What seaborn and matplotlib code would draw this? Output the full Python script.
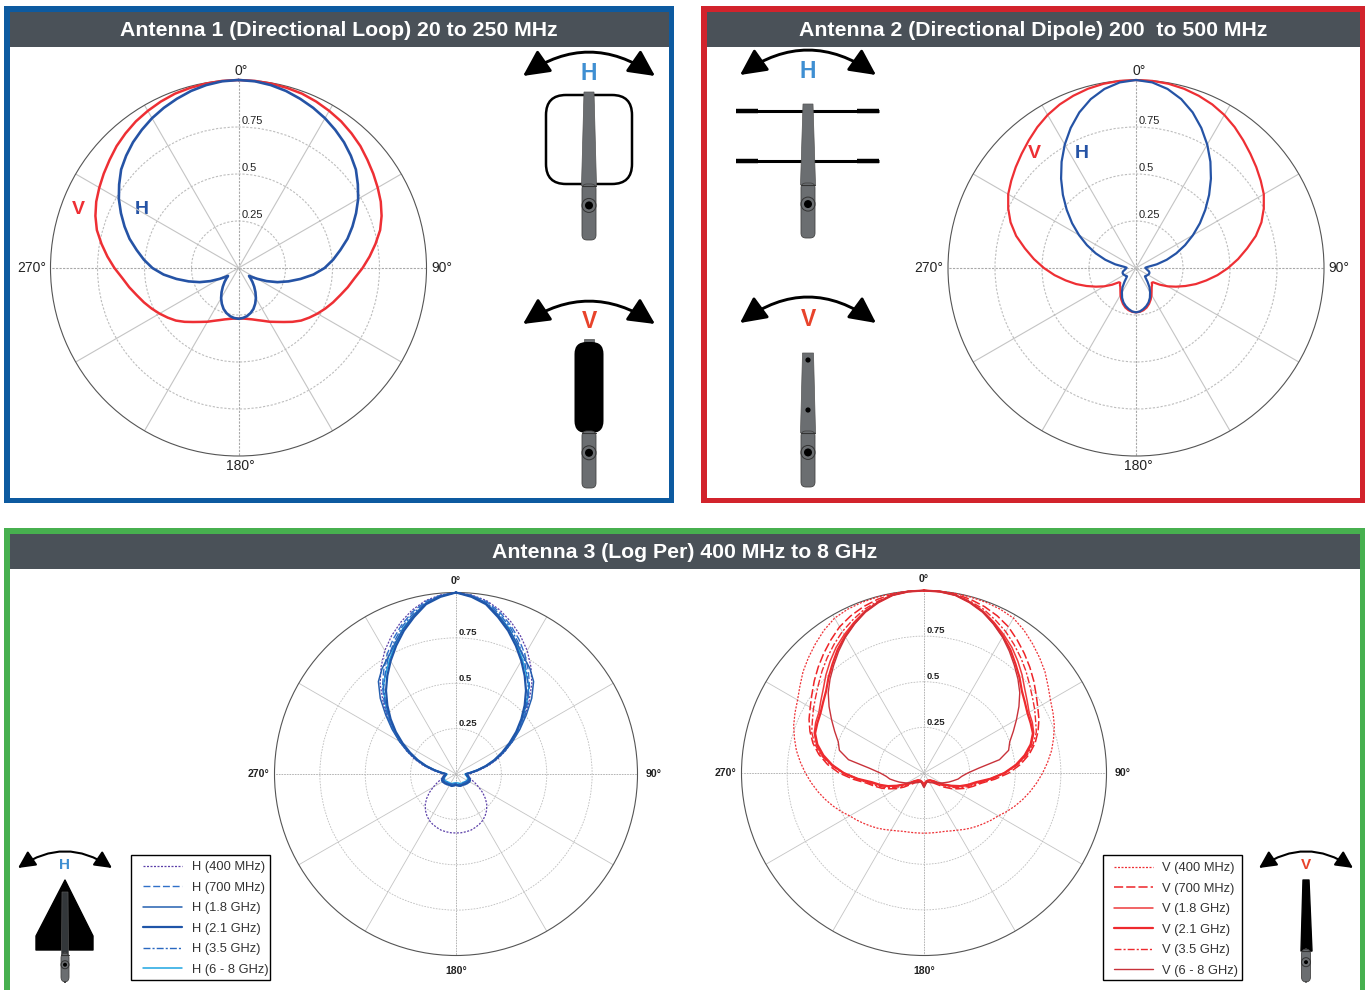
import numpy as np
import matplotlib as mpl
import matplotlib.pyplot as plt
import seaborn as sns
from matplotlib.patches import Rectangle, FancyBboxPatch, Polygon, Circle, FancyArrowPatch

mpl.use("Agg")

# Angles are clockwise from the top, right half only, the patterns are mirrored
ANGLES_5 = list(range(0, 185, 5))

ANGLES_A1_H = list(range(0, 125, 5)) + [124, 127, 130] + list(range(135, 185, 5))
A1_H = [1, .997, .988, .975, .958, .94, .92, .897, .873, .845, .815, .775, .735, .69, .645, .60, .55, .505, .458,
        .40, .335, .275, .22, .165, .115, .085, .07, .082, .105, .13, .157, .185, .21, .232, .248, .26, .267, .27]
A1_V = [1, .999, .996, .992, .987, .977, .965, .952, .935, .917, .895, .875, .855, .835, .81, .78, .74, .70, .66,
        .62, .59, .56, .535, .51, .485, .46, .435, .405, .375, .35, .33, .31, .295, .283, .275, .27, .27]

ANGLES_A2_H = list(range(0, 90, 5)) + [88] + list(range(95, 135, 5)) + [133, 136] + list(range(140, 185, 5))
A2_H = [1, .991, .967, .93, .881, .822, .758, .69, .62, .55, .481, .415, .35, .288, .228, .169, .112, .06, .05,
        .055, .062, .072, .076, .076, .073, .07, .066, .065, .075, .095, .125, .15, .175, .195, .21, .222, .232, .236]
ANGLES_A2_V = list(range(0, 135, 5)) + [133, 137] + list(range(140, 185, 5))
A2_V = [1, .999, .995, .987, .975, .96, .94, .915, .887, .86, .835, .81, .785, .75, .71, .66, .60, .545, .49,
        .435, .38, .33, .28, .235, .195, .155, .118, .115, .125, .13, .145, .165, .185, .203, .218, .228, .234, .236]

A3_H_400 = [1, .99, .97, .935, .89, .84, .785, .72, .65, .57, .495, .425, .36, .30, .245, .19, .135, .095, .075,
            .07, .07, .075, .09, .115, .145, .18, .212, .24, .262, .28, .295, .305, .313, .32, .323, .325, .325]
A3_H_700 = [1, .988, .965, .925, .875, .82, .76, .695, .63, .56, .49, .42, .355, .295, .235, .18, .125, .085, .06,
            .06, .068, .075, .08, .082, .08, .077, .075, .072, .07, .07, .07, .07, .07, .068, .065, .062, .06]
A3_H_18 = [1, .985, .955, .905, .85, .795, .745, .71, .665, .59, .505, .43, .36, .295, .235, .175, .12, .08, .055,
           .058, .065, .072, .075, .078, .078, .075, .072, .07, .068, .066, .065, .065, .065, .062, .06, .058, .055]
A3_H_21 = [1, .98, .95, .895, .84, .78, .72, .66, .60, .535, .47, .405, .34, .28, .225, .17, .12, .08, .055,
           .06, .065, .075, .08, .085, .085, .082, .08, .077, .075, .072, .07, .07, .07, .067, .065, .062, .06]
A3_H_35 = [1, .985, .96, .915, .865, .805, .745, .68, .62, .55, .485, .415, .35, .29, .23, .175, .12, .08, .055,
           .055, .06, .065, .07, .072, .073, .07, .068, .066, .064, .062, .06, .06, .06, .058, .055, .052, .05]
A3_H_68 = [1, .983, .955, .905, .855, .79, .73, .675, .625, .55, .475, .41, .345, .285, .225, .17, .115, .075, .05,
           .052, .058, .065, .068, .07, .07, .068, .065, .063, .06, .06, .06, .058, .055, .052, .05, .05, .05]

A3_V_400 = [1, 1, .999, .997, .995, .99, .98, .955, .925, .895, .865, .83, .80, .78, .76, .735, .71, .68, .65,
            .62, .59, .56, .53, .50, .47, .45, .43, .412, .395, .378, .362, .35, .34, .335, .332, .33, .33]
A3_V_700 = [1, .999, .995, .985, .97, .95, .925, .89, .855, .82, .785, .75, .72, .695, .665, .63, .585, .53, .465,
            .39, .32, .28, .245, .205, .17, .135, .10, .08, .062, .055, .05, .047, .045, .045, .05, .055, .06]
A3_V_18 = [1, .998, .99, .97, .945, .91, .875, .84, .80, .76, .72, .69, .665, .655, .64, .61, .57, .51, .44,
           .365, .30, .255, .215, .17, .13, .10, .07, .06, .05, .047, .045, .045, .045, .047, .05, .06, .07]
A3_V_21 = [1, .998, .99, .968, .94, .905, .865, .825, .78, .74, .70, .675, .655, .645, .635, .605, .56, .505, .44,
           .365, .29, .25, .21, .165, .125, .095, .07, .06, .052, .05, .05, .05, .05, .052, .055, .062, .07]
A3_V_35 = [1, .998, .99, .975, .955, .925, .895, .86, .825, .79, .755, .725, .70, .675, .655, .62, .575, .515, .445,
           .375, .31, .27, .23, .19, .15, .115, .085, .068, .055, .052, .05, .05, .05, .05, .052, .058, .065]
A3_V_68 = [1, .998, .99, .968, .94, .90, .86, .815, .77, .728, .685, .635, .585, .54, .50, .48, .42, .30, .24,
           .208, .19, .165, .145, .125, .11, .095, .08, .075, .07, .065, .06, .055, .05, .055, .06, .07, .08]

RING_LABELS = [0.25, 0.5, 0.75]
SPOKES = list(range(0, 360, 30))
CARDINALS = {0: "0°", 90: "90°", 180: "180°", 270: "270°"}

H_LABELS = ["H (400 MHz)", "H (700 MHz)", "H (1.8 GHz)", "H (2.1 GHz)", "H (3.5 GHz)", "H (6 - 8 GHz)"]
V_LABELS = ["V (400 MHz)", "V (700 MHz)", "V (1.8 GHz)", "V (2.1 GHz)", "V (3.5 GHz)", "V (6 - 8 GHz)"]

TITLE_1 = "Antenna 1 (Directional Loop) 20 to 250 MHz"
TITLE_2 = "Antenna 2 (Directional Dipole) 200  to 500 MHz"
TITLE_3 = "Antenna 3 (Log Per) 400 MHz to 8 GHz"

W, H = 1368, 990
BAR = "#4a5158"
STICK = "#6b6e71"
BLUE = "#2553a5"
RED = "#ee2f34"
H_TEXT = "#3f8fd2"
V_TEXT = "#e8432b"

sns.set_theme(style="white")
plt.rcParams["font.family"] = ["Liberation Sans", "DejaVu Sans"]

fig = plt.figure(figsize=(W / 100, H / 100), dpi=100, facecolor="white")

# Whole figure in pixel coordinates, for frames and antenna sketches
bg = fig.add_axes([0, 0, 1, 1], zorder=0)
bg.set_xlim(0, W)
bg.set_ylim(H, 0)
bg.axis("off")


def panel(x0, y0, x1, y1, color, bar_h, title):
    bg.add_patch(Rectangle((x0, y0), x1 - x0, y1 - y0, fc=color, ec="none"))
    bg.add_patch(Rectangle((x0 + 5.5, y0 + 5.5), x1 - x0 - 11, y1 - y0 - 11, fc="white", ec="none"))
    bg.add_patch(Rectangle((x0 + 5.5, y0 + 5.5), x1 - x0 - 11, bar_h, fc=BAR, ec="none"))
    bg.text((x0 + x1) / 2, y0 + 6.5 + bar_h / 2, title, color="white", fontsize=15.35,
            fontweight="bold", ha="center", va="center")


def swing(cx, y_top, y_end, half, letter, color, size, lw=2.1, head=20):
    arrow = FancyArrowPatch((cx - half, y_end), (cx + half, y_end),
                            connectionstyle="arc3,rad=-%.3f" % (2 * (y_end - y_top) / (2 * half)),
                            arrowstyle="<|-|>,head_length=0.8,head_width=0.4", mutation_scale=head, lw=lw,
                            color="black", shrinkA=0, shrinkB=0, zorder=3)
    bg.add_patch(arrow)
    bg.text(cx, y_end - 3, letter, color=color, fontsize=size, fontweight="bold", ha="center", va="center")


def handle(cx, y0, y1, half=7, dot=4, color=STICK):
    bg.add_patch(FancyBboxPatch((cx - half + 2, y0), 2 * half - 4, y1 - y0 - 2, boxstyle="round,pad=2,rounding_size=5",
                                fc=color, ec="#444444", lw=.6, zorder=3))
    bg.plot([cx - half, cx + half], [y0, y0], color="#333333", lw=.8, zorder=4)
    yc = y0 + (y1 - y0) * .36
    bg.add_patch(Circle((cx, yc), half * 1.0, fc="none", ec="#333333", lw=.7, zorder=4))
    bg.add_patch(Circle((cx, yc), dot, fc="black", ec="none", zorder=5))


def mast(cx, y0, y1, top_half, bot_half, color=STICK):
    bg.add_patch(Polygon([(cx - top_half, y0), (cx + top_half, y0), (cx + bot_half, y1), (cx - bot_half, y1)],
                         fc=color, ec="#555555", lw=.5, zorder=3))


def polar_ax(cx, cy, r, label_size, ring_size, offsets, bold=False, grid_lw=.8):
    ax = fig.add_axes([(cx - r) / W, 1 - (cy + r) / H, 2 * r / W, 2 * r / H], projection="polar", zorder=2)
    ax.set_facecolor("none")
    ax.set_theta_zero_location("N")
    ax.set_theta_direction(-1)
    ax.set_ylim(0, 1)
    weight = "bold" if bold else "normal"
    ax.set_thetagrids(SPOKES, [""] * len(SPOKES))
    ax.set_rgrids(RING_LABELS, labels=[""] * 3)
    for a, line in zip(SPOKES, ax.xaxis.get_gridlines()):
        if a in CARDINALS:
            line.set(color="#a8a8a8", lw=grid_lw, ls=(0, (2, 1.2)), visible=True)
        else:
            line.set(color="#c4c4c4", lw=grid_lw, ls="-", visible=True)
    for line in ax.yaxis.get_gridlines():
        line.set(color="#bdbdbd", lw=grid_lw, ls=(0, (2, 1.5)), visible=True)
    ax.spines["polar"].set(color="#555555", lw=.8)
    for a, off in zip(CARDINALS, offsets):
        ax.annotate(CARDINALS[a], xy=(np.radians(a), 1), xytext=off, textcoords="offset pixels", fontsize=label_size,
                    fontweight=weight, color="#222222", ha="center", va="center", annotation_clip=False)
    for ring in RING_LABELS:
        ax.annotate(str(ring), xy=(0, ring), xytext=(2, .5), textcoords="offset points", fontsize=ring_size,
                    fontweight=weight, color="#222222", ha="left", va="bottom", zorder=6)
    return ax


def pattern(ax, angles, values, color, lw, ls="-", label=None, zorder=3):
    half = np.radians(angles)
    theta = np.concatenate([half, 2 * np.pi - half[::-1][1:]])
    r = np.concatenate([values, values[::-1][1:]])
    sns.lineplot(x=theta, y=r, ax=ax, sort=False, estimator=None, errorbar=None, color=color,
                 linewidth=lw, linestyle=ls, label=label, legend=False, zorder=zorder)
    ax.set_xlabel("")
    ax.set_ylabel("")
    ax.set_ylim(0, 1)
    ax.get_lines()[-1].set_clip_on(False)


def pattern_legend(ax, box, x0, y0):
    bg.add_patch(Rectangle((box[0], box[1]), box[2] - box[0], box[3] - box[1], fc="white", ec="black", lw=1))
    ax.legend(loc="upper left", bbox_to_anchor=(x0 / W, 1 - y0 / H), bbox_transform=fig.transFigure,
              fontsize=9.3, frameon=False, borderaxespad=0, borderpad=0,
              handlelength=3.05, handletextpad=.72, labelspacing=.66, labelcolor="#333333")


panel(4, 6, 674, 503, "#0d5aa0", 35, TITLE_1)
panel(701, 6, 1365, 503, "#d2232c", 35, TITLE_2)
panel(4, 528, 1365, 1003, "#47b04f", 35, TITLE_3)

# Antenna 1
OFF_TOP = [(3, 9), (15, 0), (2, -10), (-19, 0)]
ax1 = polar_ax(238.5, 268, 188, 10, 8, OFF_TOP)
pattern(ax1, ANGLES_5, A1_V, RED, 1.8)
pattern(ax1, ANGLES_A1_H, A1_H, BLUE, 1.9)
bg.text(78, 210, "V", color=RED, fontsize=14, fontweight="bold", ha="center", va="center")
bg.text(142, 210, "H", color=BLUE, fontsize=14, fontweight="bold", ha="center", va="center")

swing(589, 53, 76, 66, "H", H_TEXT, 16.5)
bg.add_patch(FancyBboxPatch((563, 112), 52, 55, boxstyle="round,pad=17,rounding_size=20", fc="none", ec="black", lw=1.8, zorder=2))
mast(589, 92, 186, 5, 7.5)
handle(589, 186, 240)
swing(589, 302, 324, 66, "V", V_TEXT, 16.5)
mast(589, 339, 345, 5, 5)
bg.add_patch(FancyBboxPatch((582, 349.5), 14, 76, boxstyle="round,pad=7.5,rounding_size=12", fc="black", ec="none", zorder=3))
handle(589, 433, 488)

# Antenna 2
ax2 = polar_ax(1136, 268, 188, 10, 8, OFF_TOP)
pattern(ax2, ANGLES_A2_V, A2_V, RED, 1.6)
pattern(ax2, ANGLES_A2_H, A2_H, BLUE, 1.6)
bg.text(1034, 153, "V", color=RED, fontsize=14, fontweight="bold", ha="center", va="center")
bg.text(1082, 153, "H", color=BLUE, fontsize=14, fontweight="bold", ha="center", va="center")

swing(808, 51, 75, 68, "H", H_TEXT, 16.5)
for y in (111, 161):
    bg.plot([736, 879], [y, y], color="black", lw=2.2, solid_capstyle="butt", zorder=2)
    bg.plot([736, 758], [y, y], color="black", lw=3.2, solid_capstyle="butt", zorder=2)
    bg.plot([857, 879], [y, y], color="black", lw=3.2, solid_capstyle="butt", zorder=2)
mast(808, 104, 185, 5, 7.5)
handle(808, 185, 238)
swing(808, 298, 323, 68, "V", V_TEXT, 16.5)
mast(808, 353, 433, 5.5, 7.5)
handle(808, 433, 487)
bg.add_patch(Circle((808, 360), 2.6, fc="black", ec="none", zorder=5))
bg.add_patch(Circle((808, 410), 2.6, fc="black", ec="none", zorder=5))

# Antenna 3, horizontal
OFF_LOW = [(0, 12), (16, 0), (0, -15), (-16, 0)]
ax3 = polar_ax(456, 774, 181.5, 7.6, 6.8, OFF_LOW, bold=True, grid_lw=.6)
pattern(ax3, ANGLES_5, A3_H_400, "#5b3fa8", .9, (0, (1.6, 1.2)), H_LABELS[0])
pattern(ax3, ANGLES_5, A3_H_700, "#3070c8", 1.0, (0, (5, 2)), H_LABELS[1])
pattern(ax3, ANGLES_5, A3_H_18, "#2560b0", 1.1, "-", H_LABELS[2])
pattern(ax3, ANGLES_5, A3_H_21, "#1f55a8", 1.6, "-", H_LABELS[3], zorder=4)
pattern(ax3, ANGLES_5, A3_H_35, "#2a68c0", 1.0, (0, (5, 1.5, 1.5, 1.5)), H_LABELS[4])
pattern(ax3, ANGLES_5, A3_H_68, "#1ea5e2", 1.1, "-", H_LABELS[5], zorder=2.5)
pattern_legend(ax3, (130.5, 854.5, 270, 980), 143, 861)

# Antenna 3, vertical
ax4 = polar_ax(924, 773, 182.5, 7.6, 6.8, OFF_LOW, bold=True, grid_lw=.6)
pattern(ax4, ANGLES_5, A3_V_400, "#ee2f34", .9, (0, (1.6, 1.2)), V_LABELS[0])
pattern(ax4, ANGLES_5, A3_V_700, "#ee2428", 1.1, (0, (6, 2)), V_LABELS[1])
pattern(ax4, ANGLES_5, A3_V_18, "#ee3a3c", 1.1, "-", V_LABELS[2])
pattern(ax4, ANGLES_5, A3_V_21, "#ee2a2e", 1.6, "-", V_LABELS[3])
pattern(ax4, ANGLES_5, A3_V_35, "#ee2a2e", 1.0, (0, (5, 1.5, 1.5, 1.5)), V_LABELS[4])
pattern(ax4, ANGLES_5, A3_V_68, "#c8323a", 1.0, "-", V_LABELS[5])
pattern_legend(ax4, (1102.5, 855, 1242, 980), 1113.5, 862)

# Small sketches in the bottom corners
swing(65, 852, 868, 47, "H", H_TEXT, 11, lw=1.5, head=13)
bg.add_patch(Polygon([(65, 880), (93, 936), (93, 950), (36, 950), (36, 936)], fc="black", ec="black", lw=1, joinstyle="round", zorder=3))
mast(65, 892, 955, 3, 3.5, color="#33373a")
handle(65, 955, 982, half=4, dot=2)
swing(1306, 852, 868, 47, "V", V_TEXT, 11, lw=1.5, head=13)
bg.add_patch(Polygon([(1303, 880), (1309, 880), (1312, 951), (1301, 951)], fc="black", ec="black", lw=1, joinstyle="round", zorder=3))
handle(1306, 951, 982, half=4.5, dot=2)

fig.savefig("out.png", dpi=100)
